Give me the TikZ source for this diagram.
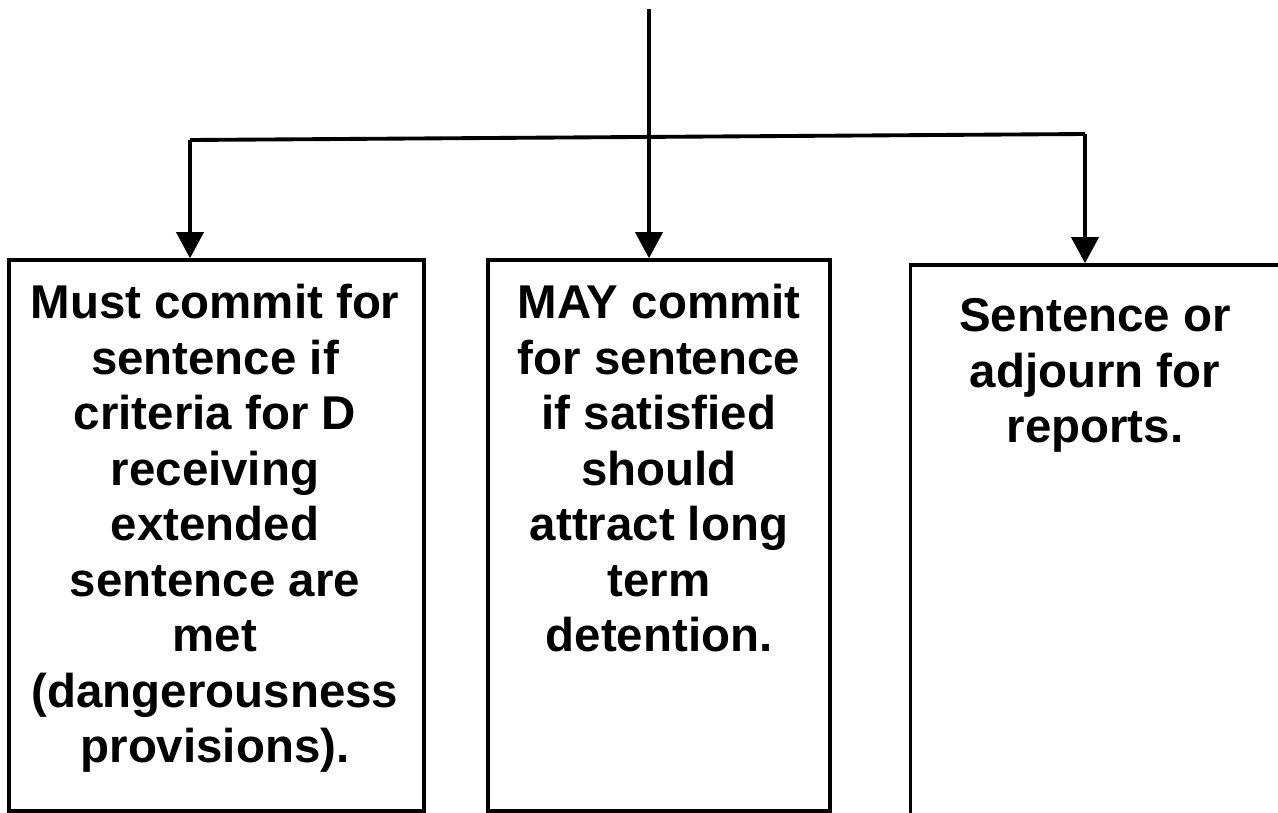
\documentclass[tikz,border=0pt]{standalone}
\usepackage{fontspec}
\setmainfont{Liberation Sans}
\usepackage{tikz}
\usetikzlibrary{calc}
\usetikzlibrary{arrows.meta}

\begin{document}
\begin{tikzpicture}[x=0.02cm, y=-0.02cm, line width=2.2pt,
  box/.style = {draw, line width=2.1pt, inner sep=0pt},
  txt/.style = {anchor=north, align=center, inner sep=0pt, font=\fontsize{27}{31.6}\selectfont\bfseries},
  arr/.style = {-{Triangle[width=0.54cm, length=0.52cm]}}]
  \useasboundingbox (0,0) rectangle (1278,812);
  %boxes
  \node[box, minimum width=8.3cm, minimum height=11.02cm] (must) at (216.5,535.5) {};
  \node[box, minimum width=6.84cm, minimum height=11.02cm] (may) at (659,535.5) {};
  \node[box, minimum width=7.9cm, minimum height=11.3cm] (adj) at (1108,547.5) {};
  %texts in the boxes
  \node[txt] (musttxt) at (215,278) {\strut Must commit for\\ sentence if\\ criteria for D\\ receiving\\ extended\\ sentence are\\ met\\ (dangerousness\\ provisions).};
  \node[txt] (maytxt) at (659,278) {\strut MAY commit\\ for sentence\\ if satisfied\\ should\\ attract long\\ term\\ detention.};
  \node[txt] (adjtxt) at (1095,291) {\strut Sentence or\\ adjourn for\\ reports.};
  %top line
  \coordinate (top) at (649,9);
  \draw[arr] (top) -- (top |- may.north);
  %branching out
  \coordinate (bl) at (190,140);
  \coordinate (br) at (1085,134);
  \draw (bl) -- (br);
  \draw[arr] (bl) -- (bl |- must.north);
  \draw[arr] (br) -- (br |- adj.north);
\end{tikzpicture}
\end{document}
